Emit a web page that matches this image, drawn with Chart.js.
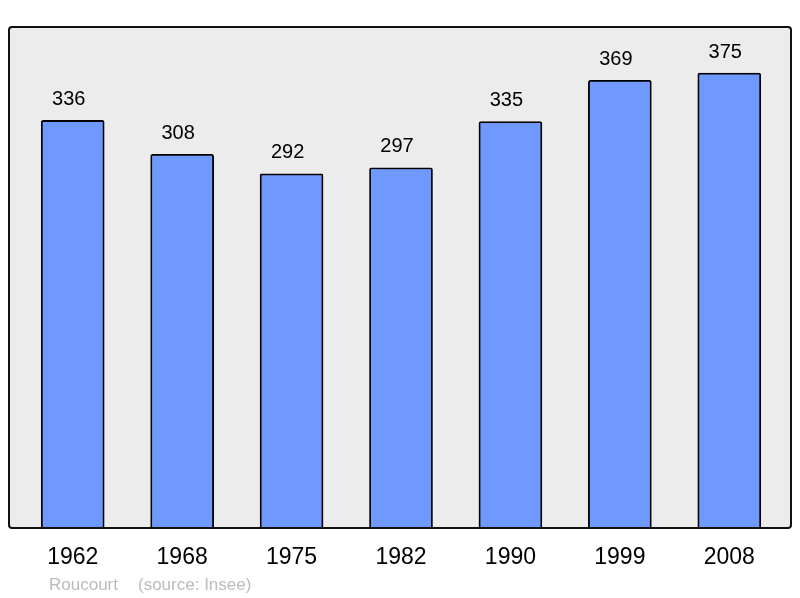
<!DOCTYPE html>
<html><head><meta charset="utf-8">
<script src="https://cdn.jsdelivr.net/npm/chart.js@4"></script>
<style>html,body{margin:0;padding:0;background:#fff}#wrap{width:800px;height:598px}</style>
</head><body><div id="wrap"><canvas id="c" width="800" height="598"></canvas></div>
<script>
const years = ["1962","1968","1975","1982","1990","1999","2008"];
const population = [336,308,292,297,335,369,375];
const title = "Roucourt";
const source = "(source: Insee)";

const boxPlugin = {
  id:'box',
  beforeDatasetsDraw(chart){
    const {ctx, chartArea:a} = chart;
    const l=a.left-9, r=a.right+7, t=a.top, b=a.bottom;
    ctx.save();
    ctx.beginPath();
    ctx.roundRect(l,t,r-l,b-t,3);
    ctx.fillStyle='#ececec';
    ctx.fill();
    ctx.restore();
  },
  afterDatasetsDraw(chart){
    const {ctx, chartArea:a} = chart;
    const l=a.left-9, r=a.right+7, t=a.top, b=a.bottom;
    ctx.save();
    ctx.beginPath();
    ctx.roundRect(l,t,r-l,b-t,3);
    ctx.lineWidth=2;
    ctx.strokeStyle='#111';
    ctx.stroke();
    const meta = chart.getDatasetMeta(0);
    ctx.font='20px "Liberation Sans", Arial, sans-serif';
    ctx.fillStyle='#000';
    ctx.textAlign='center';
    ctx.textBaseline='middle';
    meta.data.forEach((bar,i)=>{
      ctx.fillText(String(population[i]), bar.x-4, bar.y-21);
    });
    ctx.font='17px "Liberation Sans", Arial, sans-serif';
    ctx.fillStyle='#bbbbbb';
    ctx.textAlign='left';
    ctx.fillText(title, 49, 585);
    ctx.fillText(source, 138, 585);
    ctx.restore();
  }
};

new Chart(document.getElementById('c'), {
  type:'bar',
  data:{labels:years, datasets:[{data:population, backgroundColor:'#7099ff', borderColor:'#000', borderWidth:1.8, borderRadius:{topLeft:2,topRight:2}, borderSkipped:'bottom', barThickness:63}]},
  options:{
    responsive:false, animation:false,
    layout:{padding:{left:18,right:16,top:27,bottom:0}},
    plugins:{legend:{display:false}, tooltip:{enabled:false}},
    scales:{
      y:{display:false, min:0, max:413},
      x:{
        grid:{display:false, drawTicks:false}, border:{display:false},
        ticks:{color:'#000', font:{family:'"Liberation Sans", Arial, sans-serif', size:23}, padding:16, maxRotation:0},
        afterFit(s){ s.height = 70; }
      }
    }
  },
  plugins:[boxPlugin]
});
</script></body></html>
